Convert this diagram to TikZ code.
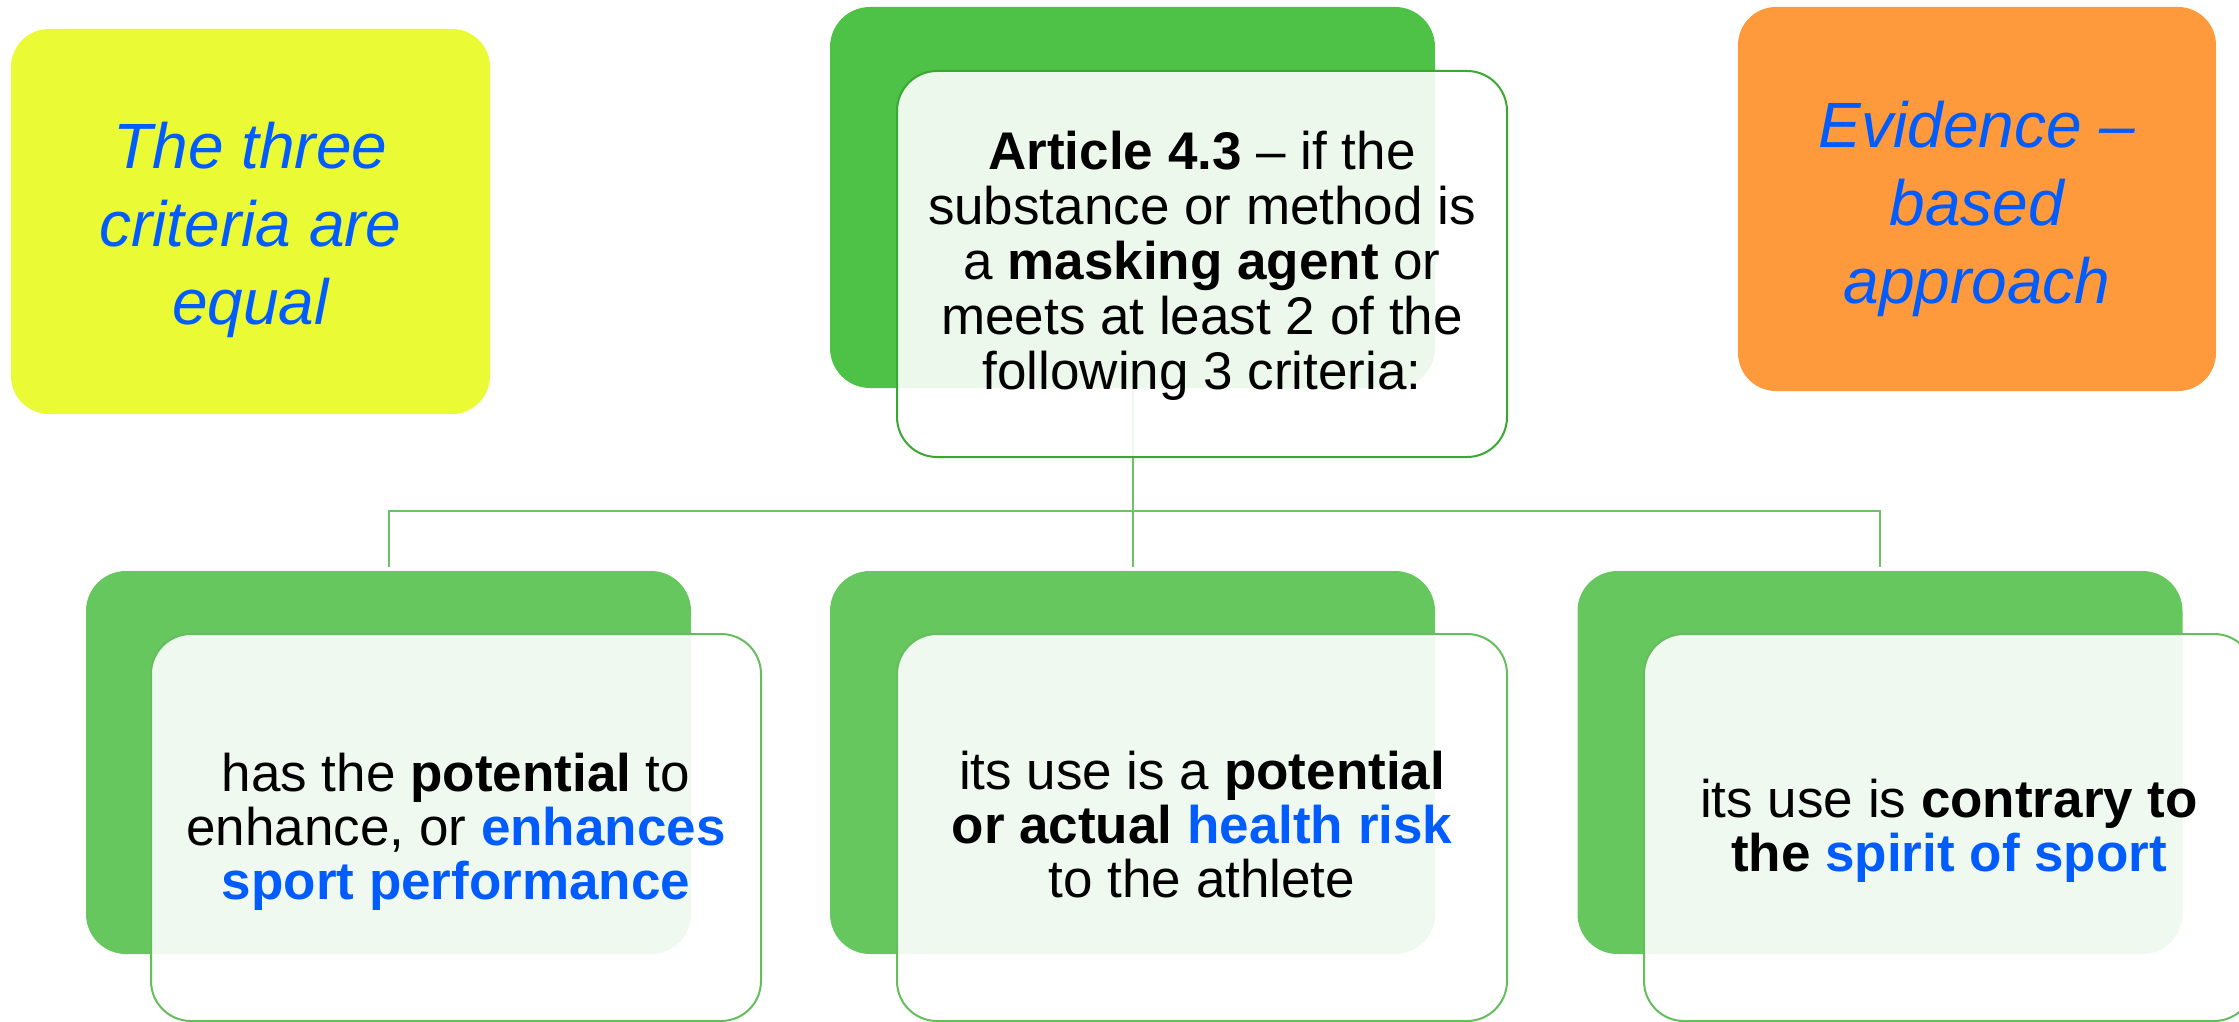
\documentclass[tikz,border=0pt]{standalone}
\usepackage{fontspec}
\setmainfont{Liberation Sans}
\definecolor{yel}{HTML}{EAFB35}
\definecolor{ora}{HTML}{FE9A3C}
\definecolor{topgreen}{HTML}{4EC147}
\definecolor{botgreen}{HTML}{66C75E}
\definecolor{topedge}{HTML}{3AA733}
\definecolor{botedge}{HTML}{66BD5E}
\definecolor{linegreen}{HTML}{6DC265}
\definecolor{txtblue}{HTML}{005CFF}
\begin{document}
\begin{tikzpicture}[x=0.5pt,y=-0.5pt,
  notebox/.style={rectangle, rounded corners=19pt, draw=none, inner sep=0pt},
  notetext/.style={inner sep=0pt, align=center, text=txtblue,
    font=\fontsize{32pt}{39pt}\selectfont\itshape},
  backbox/.style={rectangle, rounded corners=20pt, draw=none, inner sep=0pt,
    minimum width=302.5pt},
  frontbox/.style={rectangle, rounded corners=20pt, line width=1pt, fill=white,
    fill opacity=0.9, inner sep=0pt, minimum width=305pt},
  boxtext/.style={inner sep=0pt, align=center, font=\fontsize{26.5pt}{27pt}\selectfont},
  conn/.style={draw=linegreen, line width=1pt}]
\useasboundingbox (0,0) rectangle (2239,1022);
\clip (0,0) rectangle (2239,1022);

% side notes
\node[notebox, fill=yel, minimum width=239.5pt, minimum height=192.5pt] (crit) at (250.5,221.5) {};
\node[notetext] (critT) at (250.5,229.5) {The three\\criteria are\\equal};
\node[notebox, fill=ora, minimum width=239pt, minimum height=192pt] (evid) at (1977,199) {};
\node[notetext] (evidT) at (1977,209) {Evidence –\\based\\approach};

% back boxes
\node[backbox, fill=topgreen, minimum height=190.5pt] (tb) at (1132.5,197.5) {};
\node[backbox, fill=botgreen, minimum height=191.5pt] (lb) at (388.5,762.5) {};
\node[backbox, fill=botgreen, minimum height=191.5pt] (mb) at (1132.5,762.5) {};
\node[backbox, fill=botgreen, minimum height=191.5pt] (rb) at (1880,762.5) {};

% connectors
\coordinate (hub) at (1132.5,511);
\draw[conn] (tb.south) -- (hub);
\draw[conn, shorten >=2pt] (hub) -| (lb.north);
\draw[conn, shorten >=2pt] (hub) -- (mb.north);
\draw[conn, shorten >=2pt] (hub) -| (rb.north);

% front boxes
\node[frontbox, draw=topedge, minimum height=193pt] (tf) at (1202,264) {};
\node[frontbox, draw=botedge, minimum height=193.5pt] (lf) at (456,827.5) {};
\node[frontbox, draw=botedge, minimum height=193.5pt] (mf) at (1202,827.5) {};
\node[frontbox, draw=botedge, minimum height=193.5pt] (rf) at (1949,827.5) {};

% texts
\node[boxtext, font=\fontsize{26.5pt}{27.5pt}\selectfont] (tfT) at (1202,266)
  {\textbf{Article 4.3} – if the\\substance or method is\\a \textbf{masking agent} or\\meets at least 2 of the\\following 3 criteria:};
\node[boxtext] (lfT) at (456,832)
  {has the \textbf{potential} to\\enhance, or \textbf{\color{txtblue}enhances}\\\textbf{\color{txtblue}sport performance}};
\node[boxtext] (mfT) at (1202,824.5)
  {its use is a \textbf{potential}\\\textbf{or actual {\color{txtblue}health risk}}\\to the athlete};
\node[boxtext] (rfT) at (1949,831)
  {its use is \textbf{contrary to}\\\textbf{the {\color{txtblue}spirit of sport}}};
\end{tikzpicture}
\end{document}
